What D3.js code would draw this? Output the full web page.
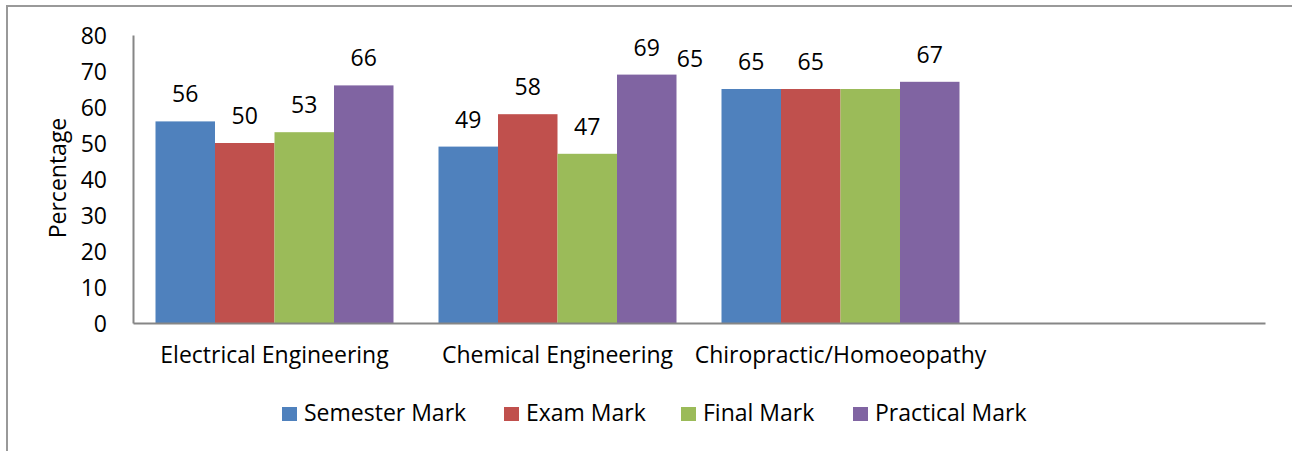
<!DOCTYPE html>
<html>
<head>
<meta charset="utf-8">
<script src="https://cdn.jsdelivr.net/npm/d3@7"></script>
<style>
  body { margin: 0; background: #fff; }
  text { font-family: "Open Sans", "Noto Sans", sans-serif; fill: #000; }
</style>
</head>
<body>
<div id="chart"></div>
<script>
var width = 1292,
    height = 451;

// data
var categories = ['Electrical Engineering', 'Chemical Engineering', 'Chiropractic/Homoeopathy', ''];
var seriesNames = ['Semester Mark', 'Exam Mark', 'Final Mark', 'Practical Mark'];
var semesterMark = [56, 49, 65, null];
var examMark = [50, 58, 65, null];
var finalMark = [53, 47, 65, null];
var practicalMark = [66, 69, 67, null];
var yTicks = [0, 10, 20, 30, 40, 50, 60, 70, 80];

var colors = ['#4f81bd', '#c0504d', '#9bbb59', '#8064a2'];
var series = [semesterMark, examMark, finalMark, practicalMark];
var fs = '23px';

var margin = {left: 133, right: 27, top: 35, bottom: 128};

var svg = d3.select('#chart').append('svg')
    .attr('width', width)
    .attr('height', height);

// outer frame
svg.append('path')
    .attr('d', 'M7,' + height + 'V6H' + width)
    .attr('fill', 'none')
    .attr('stroke', '#999')
    .attr('stroke-width', 2);

var x0 = d3.scaleBand()
    .domain(categories)
    .range([margin.left, width - margin.right])
    .paddingInner(45 / 283)
    .paddingOuter(22.5 / 283);

var x1 = d3.scaleBand()
    .domain(seriesNames)
    .range([0, x0.bandwidth()]);

var y = d3.scaleLinear()
    .domain([0, 80])
    .range([height - margin.bottom, margin.top]);

// bars
seriesNames.forEach(function(name, si){
  var g = svg.append('g');
  g.selectAll('rect')
    .data(series[si].map(function(v, i){ return {cat: categories[i], v: v}; }).filter(function(d){ return d.v != null; }))
    .enter().append('rect')
    .attr('x', function(d){ return x0(d.cat) + x1(name); })
    .attr('y', function(d){ return y(d.v); })
    .attr('width', x1.bandwidth())
    .attr('height', function(d){ return y(0) - y(d.v); })
    .attr('fill', colors[si]);
});

// value labels (the Final Mark label of the third group sits off to the left in the original)
seriesNames.forEach(function(name, si){
  series[si].forEach(function(v, i){
    if (v == null) return;
    var cx = x0(categories[i]) + x1(name) + x1.bandwidth() / 2;
    var ty = y(v) - 19;
    if (si === 2 && i === 2) { cx = 690; ty = 67; }
    svg.append('text')
      .attr('x', cx)
      .attr('y', ty)
      .attr('text-anchor', 'middle')
      .style('font-size', fs)
      .text(v);
  });
});

// axes
var yAxis = svg.append('g')
    .attr('transform', 'translate(' + margin.left + ',0)')
    .call(d3.axisLeft(y).tickValues(yTicks).tickSize(0).tickPadding(26));
yAxis.select('.domain').attr('stroke', '#868686').attr('stroke-width', 2);
yAxis.selectAll('text').style('font-size', fs).attr('dy', '0.35em');

var xAxis = svg.append('g')
    .attr('transform', 'translate(0,' + y(0) + ')')
    .call(d3.axisBottom(x0).tickSize(0).tickPadding(24));
xAxis.select('.domain').attr('stroke', '#868686').attr('stroke-width', 2);
xAxis.selectAll('text').style('font-size', fs);

svg.append('text')
    .attr('transform', 'translate(66,178) rotate(-90)')
    .attr('text-anchor', 'middle')
    .style('font-size', fs)
    .text('Percentage');

// legend
var legendX = [282, 504, 681, 853];
var legend = svg.append('g');
seriesNames.forEach(function(name, i){
  legend.append('rect')
    .attr('x', legendX[i])
    .attr('y', 407)
    .attr('width', 15)
    .attr('height', 14)
    .attr('fill', colors[i]);
  legend.append('text')
    .attr('x', legendX[i] + 22)
    .attr('y', 421)
    .style('font-size', fs)
    .text(name);
});
</script>
</body>
</html>
